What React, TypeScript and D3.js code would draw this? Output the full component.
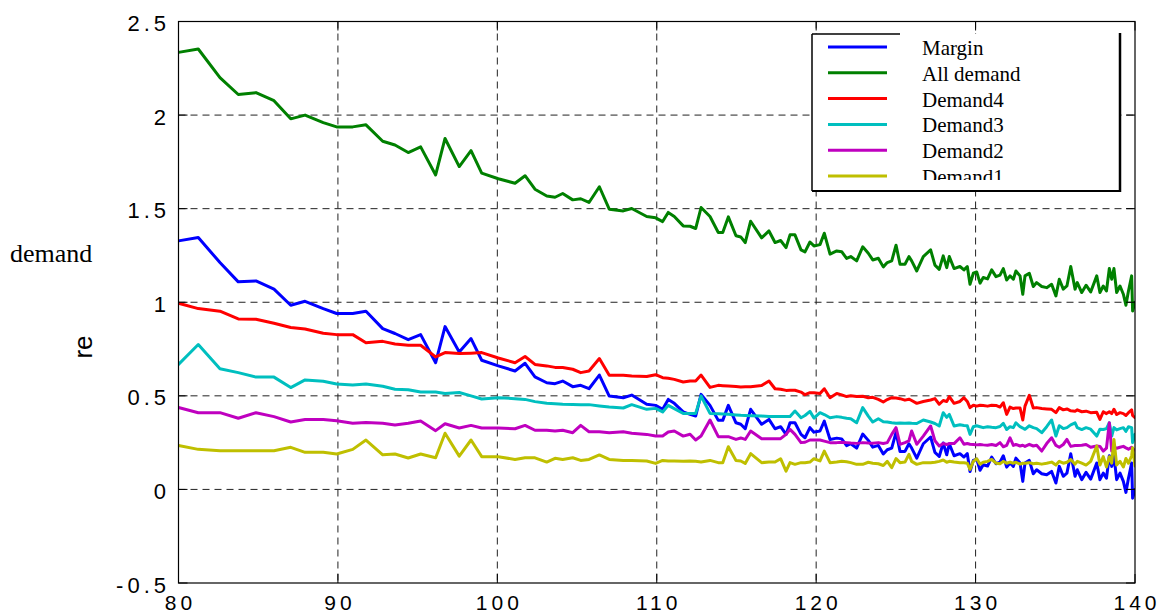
import React from "react";
import * as d3 from "d3";

// ---- data ----
const xValues = [
  80.00, 81.24, 82.60, 83.75, 84.86, 85.99, 87.04, 87.94, 89.08, 89.92, 90.93, 91.76, 92.81, 93.58, 94.41, 95.19, 96.13, 96.72, 97.61, 98.35, 99.02, 100.06,
  101.11, 101.74, 102.36, 103.10, 103.62, 104.10, 104.73, 105.23, 105.75, 106.40, 107.02, 107.90, 108.43, 109.37, 109.93, 110.37, 110.72, 111.10, 111.66, 112.09, 112.44, 112.78, 113.34, 113.86, 114.14, 114.49, 114.97, 115.27, 115.55, 115.89, 116.58, 117.04, 117.42, 117.77, 118.11, 118.36, 118.67, 119.05, 119.30, 119.61, 119.86, 120.24, 120.51, 120.87,
  121.29, 121.60, 121.91, 122.17, 122.54, 122.92, 123.27, 123.55, 123.90, 124.21, 124.46, 124.74, 125.01, 125.26, 125.57, 125.82, 125.99, 126.31, 126.72, 127.18, 127.45, 127.72, 127.97, 128.19, 128.35, 128.65, 129.02, 129.27, 129.48, 129.65, 129.86, 130.07, 130.28, 130.48, 130.75, 131.01, 131.28, 131.53, 131.74, 131.95, 132.16, 132.37, 132.53, 132.79, 132.96, 133.10, 133.37, 133.62, 133.83, 134.15, 134.46, 134.77, 135.04, 135.25, 135.50, 135.73, 135.97, 136.24, 136.38, 136.66, 136.93, 137.22, 137.60, 137.80, 138.01, 138.21, 138.39, 138.54, 138.68, 138.85, 139.06, 139.27, 139.43, 139.59, 139.79, 139.85, 140.00,
];

const margin = [
  1.328, 1.346, 1.212, 1.109, 1.114, 1.07, 0.984, 1.005, 0.966, 0.94, 0.94, 0.952, 0.859, 0.833, 0.80, 0.827, 0.677, 0.87, 0.734, 0.806, 0.69, 0.66,
  0.633, 0.674, 0.601, 0.570, 0.565, 0.579, 0.549, 0.556, 0.538, 0.611, 0.499, 0.490, 0.504, 0.455, 0.449, 0.428, 0.481, 0.460, 0.414, 0.401, 0.392, 0.508, 0.449, 0.369, 0.369, 0.449, 0.356, 0.348, 0.324, 0.428, 0.348, 0.374, 0.324, 0.335, 0.294, 0.356, 0.356, 0.294, 0.276, 0.330, 0.306, 0.312, 0.365, 0.267,
  0.274, 0.270, 0.234, 0.244, 0.221, 0.296, 0.262, 0.226, 0.235, 0.189, 0.212, 0.221, 0.305, 0.203, 0.203, 0.244, 0.221, 0.167, 0.244, 0.280, 0.198, 0.176, 0.248, 0.185, 0.244, 0.180, 0.191, 0.173, 0.191, 0.096, 0.155, 0.162, 0.102, 0.132, 0.125, 0.173, 0.137, 0.145, 0.180, 0.119, 0.141, 0.123, 0.167, 0.141, 0.043, 0.141, 0.155, 0.084, 0.105, 0.084, 0.078, 0.096, 0.034, 0.123, 0.070, 0.087, 0.191, 0.070, 0.105, 0.052, 0.091, 0.055, 0.141, 0.052, 0.087, 0.060, 0.180, 0.123, 0.180, 0.052, 0.087, 0.043, -0.016, 0.060, 0.141, -0.047, 0.000,
];

const allDemand = [
  2.335, 2.353, 2.20, 2.11, 2.12, 2.077, 1.98, 2.0, 1.96, 1.937, 1.937, 1.948, 1.86, 1.84, 1.80, 1.83, 1.68, 1.875, 1.725, 1.81, 1.69, 1.66,
  1.636, 1.676, 1.604, 1.568, 1.561, 1.581, 1.547, 1.553, 1.533, 1.617, 1.497, 1.488, 1.501, 1.458, 1.451, 1.431, 1.480, 1.458, 1.408, 1.406, 1.394, 1.506, 1.458, 1.373, 1.373, 1.456, 1.355, 1.349, 1.319, 1.433, 1.344, 1.381, 1.319, 1.330, 1.292, 1.360, 1.360, 1.280, 1.269, 1.322, 1.301, 1.308, 1.369, 1.257,
  1.274, 1.270, 1.234, 1.244, 1.221, 1.296, 1.262, 1.226, 1.235, 1.189, 1.212, 1.221, 1.305, 1.203, 1.203, 1.244, 1.221, 1.167, 1.244, 1.280, 1.198, 1.176, 1.248, 1.185, 1.244, 1.180, 1.191, 1.173, 1.191, 1.096, 1.155, 1.162, 1.102, 1.132, 1.125, 1.173, 1.137, 1.145, 1.180, 1.119, 1.141, 1.123, 1.167, 1.141, 1.043, 1.141, 1.155, 1.084, 1.105, 1.084, 1.078, 1.096, 1.034, 1.123, 1.070, 1.087, 1.191, 1.070, 1.105, 1.052, 1.091, 1.055, 1.141, 1.052, 1.087, 1.060, 1.180, 1.123, 1.180, 1.052, 1.087, 1.043, 0.984, 1.060, 1.141, 0.953, 1.000,
];

const demand4 = [
  0.995, 0.966, 0.952, 0.911, 0.909, 0.888, 0.865, 0.857, 0.834, 0.827, 0.827, 0.784, 0.791, 0.777, 0.77, 0.77, 0.708, 0.731, 0.726, 0.728, 0.731, 0.702,
  0.677, 0.710, 0.668, 0.660, 0.652, 0.651, 0.642, 0.624, 0.633, 0.699, 0.610, 0.610, 0.606, 0.603, 0.613, 0.597, 0.594, 0.588, 0.574, 0.579, 0.579, 0.611, 0.545, 0.556, 0.554, 0.552, 0.550, 0.547, 0.548, 0.549, 0.555, 0.579, 0.538, 0.535, 0.529, 0.530, 0.530, 0.520, 0.506, 0.517, 0.517, 0.512, 0.538, 0.490,
  0.513, 0.505, 0.496, 0.500, 0.496, 0.498, 0.490, 0.492, 0.481, 0.467, 0.480, 0.490, 0.488, 0.485, 0.477, 0.482, 0.475, 0.460, 0.470, 0.478, 0.485, 0.455, 0.475, 0.470, 0.496, 0.460, 0.470, 0.490, 0.470, 0.437, 0.450, 0.445, 0.450, 0.448, 0.445, 0.450, 0.449, 0.440, 0.463, 0.401, 0.440, 0.432, 0.435, 0.435, 0.371, 0.445, 0.503, 0.435, 0.437, 0.432, 0.430, 0.428, 0.410, 0.437, 0.425, 0.430, 0.420, 0.418, 0.425, 0.415, 0.418, 0.410, 0.412, 0.374, 0.415, 0.405, 0.415, 0.405, 0.428, 0.400, 0.410, 0.405, 0.395, 0.410, 0.425, 0.395, 0.383,
];

const demand3 = [
  0.668, 0.774, 0.645, 0.624, 0.60, 0.60, 0.544, 0.585, 0.578, 0.563, 0.558, 0.563, 0.551, 0.535, 0.533, 0.52, 0.52, 0.513, 0.518, 0.50, 0.483, 0.49,
  0.485, 0.481, 0.469, 0.460, 0.458, 0.455, 0.454, 0.453, 0.453, 0.446, 0.440, 0.435, 0.453, 0.428, 0.433, 0.414, 0.449, 0.432, 0.406, 0.406, 0.406, 0.499, 0.406, 0.404, 0.403, 0.401, 0.398, 0.396, 0.395, 0.394, 0.392, 0.389, 0.389, 0.389, 0.389, 0.389, 0.419, 0.383, 0.395, 0.417, 0.381, 0.410, 0.400, 0.383,
  0.389, 0.385, 0.380, 0.378, 0.356, 0.437, 0.392, 0.360, 0.378, 0.362, 0.360, 0.356, 0.353, 0.355, 0.353, 0.355, 0.353, 0.352, 0.371, 0.360, 0.352, 0.339, 0.410, 0.385, 0.401, 0.339, 0.345, 0.342, 0.340, 0.294, 0.335, 0.340, 0.335, 0.330, 0.335, 0.332, 0.330, 0.336, 0.353, 0.320, 0.335, 0.330, 0.356, 0.335, 0.328, 0.321, 0.340, 0.330, 0.325, 0.303, 0.335, 0.371, 0.285, 0.340, 0.325, 0.330, 0.345, 0.356, 0.330, 0.320, 0.330, 0.322, 0.285, 0.322, 0.320, 0.325, 0.356, 0.285, 0.330, 0.318, 0.325, 0.330, 0.310, 0.335, 0.330, 0.250, 0.294,
];

const demand2 = [
  0.438, 0.41, 0.41, 0.38, 0.41, 0.389, 0.36, 0.374, 0.374, 0.367, 0.353, 0.358, 0.353, 0.344, 0.353, 0.365, 0.314, 0.351, 0.328, 0.342, 0.328, 0.328,
  0.324, 0.342, 0.316, 0.316, 0.312, 0.316, 0.303, 0.342, 0.308, 0.308, 0.303, 0.308, 0.300, 0.294, 0.285, 0.285, 0.307, 0.312, 0.285, 0.295, 0.264, 0.285, 0.371, 0.282, 0.282, 0.282, 0.267, 0.275, 0.267, 0.312, 0.271, 0.271, 0.271, 0.271, 0.294, 0.321, 0.294, 0.250, 0.252, 0.264, 0.264, 0.264, 0.258, 0.250,
  0.250, 0.252, 0.250, 0.248, 0.246, 0.250, 0.248, 0.247, 0.250, 0.245, 0.250, 0.294, 0.330, 0.241, 0.250, 0.260, 0.312, 0.241, 0.285, 0.339, 0.260, 0.232, 0.245, 0.240, 0.245, 0.245, 0.276, 0.241, 0.245, 0.241, 0.240, 0.238, 0.240, 0.238, 0.236, 0.240, 0.235, 0.250, 0.228, 0.235, 0.276, 0.235, 0.240, 0.232, 0.236, 0.230, 0.241, 0.232, 0.236, 0.205, 0.245, 0.276, 0.235, 0.225, 0.240, 0.267, 0.230, 0.235, 0.235, 0.236, 0.240, 0.225, 0.232, 0.230, 0.205, 0.220, 0.356, 0.205, 0.225, 0.220, 0.225, 0.230, 0.222, 0.215, 0.225, 0.215, 0.210,
];

const demand1 = [
  0.235, 0.214, 0.207, 0.207, 0.207, 0.207, 0.225, 0.198, 0.198, 0.189, 0.214, 0.264, 0.185, 0.189, 0.168, 0.189, 0.169, 0.30, 0.178, 0.264, 0.175, 0.175,
  0.160, 0.169, 0.169, 0.146, 0.166, 0.160, 0.169, 0.155, 0.160, 0.184, 0.160, 0.155, 0.155, 0.152, 0.139, 0.155, 0.152, 0.152, 0.150, 0.152, 0.150, 0.146, 0.155, 0.143, 0.143, 0.228, 0.155, 0.152, 0.139, 0.191, 0.143, 0.146, 0.146, 0.164, 0.098, 0.143, 0.134, 0.143, 0.143, 0.146, 0.164, 0.152, 0.205, 0.143,
  0.146, 0.150, 0.148, 0.143, 0.134, 0.134, 0.145, 0.140, 0.137, 0.128, 0.150, 0.116, 0.165, 0.143, 0.146, 0.187, 0.150, 0.134, 0.143, 0.143, 0.145, 0.150, 0.157, 0.145, 0.150, 0.146, 0.142, 0.143, 0.140, 0.107, 0.150, 0.164, 0.135, 0.145, 0.150, 0.160, 0.140, 0.137, 0.150, 0.140, 0.146, 0.140, 0.145, 0.135, 0.140, 0.140, 0.143, 0.137, 0.140, 0.135, 0.140, 0.146, 0.130, 0.150, 0.140, 0.145, 0.160, 0.135, 0.150, 0.140, 0.130, 0.150, 0.232, 0.130, 0.175, 0.120, 0.175, 0.140, 0.267, 0.130, 0.150, 0.120, 0.165, 0.140, 0.180, 0.223, 0.125,
];

const seriesNames = ["Margin", "All demand", "Demand4", "Demand3", "Demand2", "Demand1"];
const seriesValues = [margin, allDemand, demand4, demand3, demand2, demand1];
const seriesColors = ["#0000ff", "#008000", "#ff0000", "#00bfbf", "#bf00bf", "#bfbf00"];

const xTicks = [80, 90, 100, 110, 120, 130, 140];
const yTicks = [-0.5, 0, 0.5, 1, 1.5, 2, 2.5];
const yTickLabels = ["-0.5", "0", "0.5", "1", "1.5", "2", "2.5"];

export default function App() {
  const W = 1162;
  const H = 615;
  const left = 178.5, right = 1135, top = 21.5, bottom = 583;
  const x = d3.scaleLinear().domain([80, 140]).range([left, right]);
  const y = d3.scaleLinear().domain([-0.5, 2.5]).range([bottom, top]);

  const makePath = (vals: number[]) => {
    const n = Math.min(vals.length, xValues.length);
    const pts: [number, number][] = [];
    for (let i = 0; i < n; i++) pts.push([xValues[i], vals[i]]);
    return d3.line<[number, number]>().x((d) => x(d[0])).y((d) => y(d[1]))(pts) || "";
  };

  const tickLen = 9;
  const sans = "'Liberation Sans', Arial, sans-serif";
  const serif = "'Liberation Serif', 'Times New Roman', serif";

  const legX = 812, legY = 34, legR = 1120, legB = 191;

  return (
    <svg width={W} height={H} style={{ position: "absolute", left: 0, top: 0, background: "#fff" }}>
      <defs>
        <clipPath id="plotClip">
          <rect x={left} y={top} width={right - left} height={bottom - top} />
        </clipPath>
        <clipPath id="legClip">
          <rect x={legX} y={legY} width={legR - legX} height={180 - legY} />
        </clipPath>
      </defs>
      <rect x={0} y={0} width={W} height={H} fill="#fff" />

      {/* grid */}
      <g stroke="#222" strokeWidth={1} strokeDasharray="7,5">
        {xTicks.slice(1, -1).map((t) => (
          <line key={"gx" + t} x1={x(t)} x2={x(t)} y1={top} y2={bottom} />
        ))}
        {yTicks.slice(1, -1).map((t) => (
          <line key={"gy" + t} x1={left} x2={right} y1={y(t)} y2={y(t)} />
        ))}
      </g>

      {/* data lines */}
      <g clipPath="url(#plotClip)" fill="none" strokeWidth={3} strokeLinejoin="round" strokeLinecap="round">
        {seriesValues.map((vals, i) => (
          <path key={seriesNames[i]} d={makePath(vals)} stroke={seriesColors[i]} />
        ))}
      </g>

      {/* frame */}
      <rect x={left} y={top} width={right - left} height={bottom - top} fill="none" stroke="#000" strokeWidth={1.2} />

      {/* ticks */}
      <g stroke="#000" strokeWidth={1}>
        {xTicks.map((t) => (
          <g key={"tx" + t}>
            <line x1={x(t)} x2={x(t)} y1={bottom} y2={bottom - tickLen} />
            <line x1={x(t)} x2={x(t)} y1={top} y2={top + tickLen} />
          </g>
        ))}
        {yTicks.map((t) => (
          <g key={"ty" + t}>
            <line x1={left} x2={left + tickLen} y1={y(t)} y2={y(t)} />
            <line x1={right} x2={right - tickLen} y1={y(t)} y2={y(t)} />
          </g>
        ))}
      </g>

      {/* tick labels */}
      <g fontFamily={sans} fill="#000" letterSpacing={4}>
        {xTicks.map((t) => (
          <text key={"lx" + t} x={x(t) + 2} y={609.5} fontSize={21} textAnchor="middle">
            {String(t)}
          </text>
        ))}
        {yTicks.map((t, i) => (
          <text key={"ly" + t} x={170} y={y(t) + 9.5} fontSize={22} textAnchor="end">
            {yTickLabels[i]}
          </text>
        ))}
      </g>

      {/* axis labels */}
      <text x={10} y={262} fontFamily={serif} fontSize={26} fill="#000">
        demand
      </text>
      <text
        transform={`translate(92, 347) rotate(-90)`}
        fontFamily={sans}
        fontSize={26}
        textAnchor="middle"
        fill="#000"
      >
        re
      </text>

      {/* legend */}
      <rect x={legX} y={legY} width={legR - legX} height={legB - legY} fill="#fff" stroke="none" />
      <line x1={legX} x2={legX} y1={legY} y2={legB} stroke="#000" strokeWidth={1.5} />
      <line x1={legX} x2={legR + 1} y1={legB} y2={legB} stroke="#000" strokeWidth={2} />
      <line x1={legR} x2={legR} y1={legY - 1} y2={legB + 1} stroke="#000" strokeWidth={2.5} />
      <line x1={legX} x2={900} y1={legY} y2={legY} stroke="#000" strokeWidth={1.5} />
      <g clipPath="url(#legClip)">
        {seriesNames.map((name, i) => {
          const ly = 47 + i * 25.8;
          return (
            <g key={"leg" + name}>
              <line x1={828} x2={887} y1={ly} y2={ly} stroke={seriesColors[i]} strokeWidth={3} />
              <text x={922} y={ly + 8} fontFamily={serif} fontSize={21} fill="#000">
                {name}
              </text>
            </g>
          );
        })}
      </g>
    </svg>
  );
}
